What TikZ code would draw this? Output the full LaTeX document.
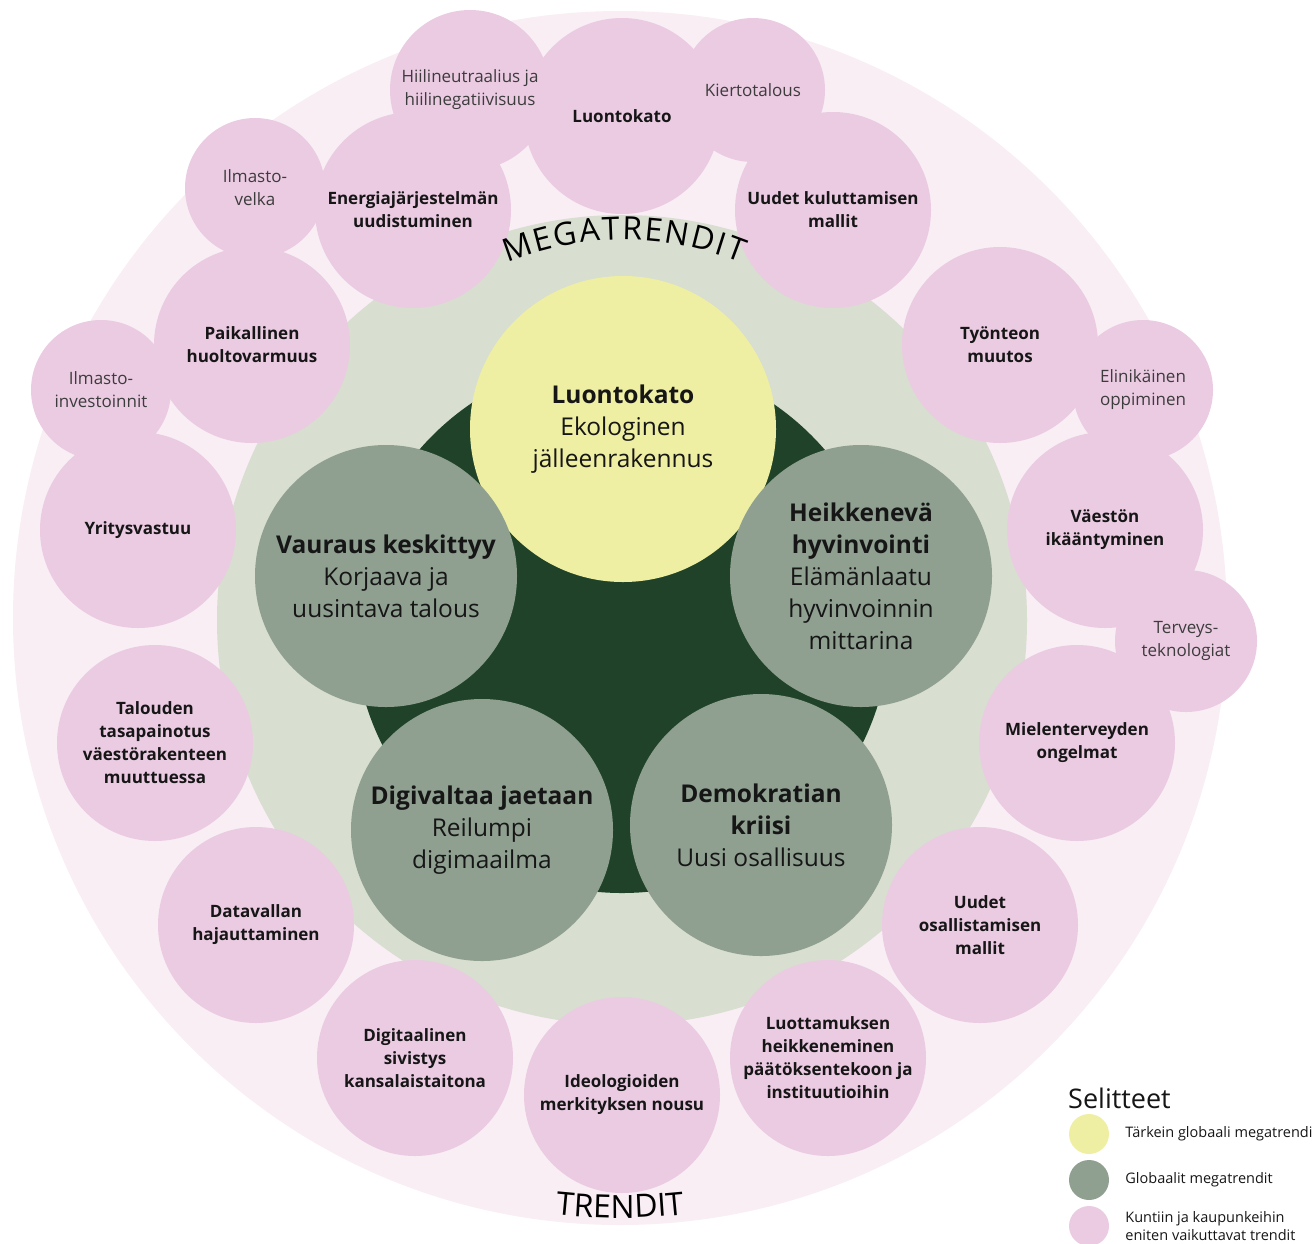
\documentclass[tikz,border=0pt]{standalone}
\usepackage{fontspec}
\setmainfont{Open Sans}
\usepackage{tikz}
\usetikzlibrary{positioning,decorations.text}

\definecolor{pale}{HTML}{F8EEF4}
\definecolor{rose}{HTML}{EBCBE2}
\definecolor{sage}{HTML}{D8DED0}
\definecolor{forest}{HTML}{1F4228}
\definecolor{lemon}{HTML}{EEEFA3}
\definecolor{moss}{HTML}{8FA091}
\definecolor{ink}{HTML}{161616}
\definecolor{softink}{HTML}{3C3C3C}

\newcommand\megafont{\fontsize{24.5}{32}\selectfont}
\newcommand\trendfont{\fontsize{17}{23}\selectfont}
\newcommand\ringfont{\fontsize{32}{36}\selectfont}

\begin{document}
\begin{tikzpicture}[x=1pt,y=1pt,
    mega/.style={circle,fill=moss,minimum size=262pt,inner sep=0pt,align=center,text=ink,font=\megafont},
    key/.style={mega,fill=lemon,minimum size=306pt},
    trend/.style={circle,fill=rose,minimum size=196pt,inner sep=0pt,align=center,text=ink,font=\trendfont\bfseries},
    side/.style={trend,minimum size=140pt,text=softink,font=\trendfont},
    dot/.style={circle,minimum size=40pt,inner sep=0pt},
    legend/.style={inner sep=0pt,align=left,text=ink,font=\fontsize{14.5}{18}\selectfont}]
    \useasboundingbox (0,0) rectangle (1316,-1243);

    % rings
    \node[circle,fill=pale,minimum size=1214pt] (trendring) at (620,-618) {};
    \node[circle,fill=sage,minimum size=810pt] (megaring) at (622,-620) {};
    \node[circle,fill=forest,minimum size=536pt] (core) at (622,-625) {};

    % megatrendit
    \node[key] (luontokato) at (623,-429) {\textbf{Luontokato}\\Ekologinen\\jälleenrakennus};
    \node[mega] (vauraus) at (386,-576) {\textbf{Vauraus keskittyy}\\Korjaava ja\\uusintava talous};
    \node[mega] (hyvinvointi) at (861,-576) {\textbf{Heikkenevä}\\\textbf{hyvinvointi}\\Elämänlaatu\\hyvinvoinnin\\mittarina};
    \node[mega] (digivalta) at (482,-830) {\textbf{Digivaltaa jaetaan}\\Reilumpi\\digimaailma};
    \node[mega] (demokratia) at (761,-825) {\textbf{Demokratian}\\\textbf{kriisi}\\Uusi osallisuus};

    % trendit
    \node[side,minimum size=140pt] (velka) at (255,-188) {Ilmasto-\\velka};
    \node[trend] (luonto) at (622,-116) {Luontokato};
    \node[trend] (energia) at (413,-210) {Energiajärjestelmän\\uudistuminen};
    \node[trend] (kulutus) at (833,-210) {Uudet kuluttamisen\\mallit};
    \node[trend] (huolto) at (252,-345) {Paikallinen\\huoltovarmuus};
    \node[trend] (tyo) at (1000,-345) {Työnteon\\muutos};
    \node[trend] (yritys) at (138,-530) {Yritysvastuu};
    \node[trend] (ikaantyminen) at (1105,-530) {Väestön\\ikääntyminen};
    \node[trend] (talous) at (155,-743) {Talouden\\tasapainotus\\väestörakenteen\\muuttuessa};
    \node[trend] (mieli) at (1077,-743) {Mielenterveyden\\ongelmat};
    \node[trend] (datavalta) at (256,-925) {Datavallan\\hajauttaminen};
    \node[trend] (osallistaminen) at (980,-925) {Uudet\\osallistamisen\\mallit};
    \node[trend] (sivistys) at (415,-1058) {Digitaalinen\\sivistys\\kansalaistaitona};
    \node[trend] (luottamus) at (828,-1058) {Luottamuksen\\heikkeneminen\\päätöksentekoon ja\\instituutioihin};
    \node[trend] (ideologiat) at (622,-1095) {Ideologioiden\\merkityksen nousu};
    \node[side,minimum size=160pt] (hiili) at (470,-90) {Hiilineutraalius ja\\hiilinegatiivisuus};
    \node[side,minimum size=144pt] (kierto) at (753,-90) {Kiertotalous};
    \node[side] (investoinnit) at (101,-390) {Ilmasto-\\investoinnit};
    \node[side] (oppiminen) at (1143,-390) {Elinikäinen\\oppiminen};
    \node[side,minimum size=142pt] (terveys) at (1186,-641) {Terveys-\\teknologiat};

    % ring titles
    \coordinate (megamid) at (624,-552);
    \path[decorate,decoration={text along path,text align=fit to path,
        text={|\ringfont|MEGATRENDIT}}]
        ([shift={(112:312)}]megamid) arc[start angle=112,end angle=68,radius=312];
    \path[decorate,decoration={text along path,text align=center,
        text={|\ringfont|TRENDIT}}]
        ([shift={(250:600)}]trendring.center) arc[start angle=250,end angle=290,radius=600];

    % selitteet
    \node[anchor=base west,inner sep=0pt,text=ink,font=\fontsize{27}{30}\selectfont] (selitteet) at (1068,-1108) {Selitteet};
    \node[dot,fill=lemon] (dot1) at (1089,-1134) {};
    \node[dot,fill=moss] (dot2) at (1089,-1180) {};
    \node[dot,fill=rose] (dot3) at (1089,-1226) {};
    \node[legend,right=16pt of dot1] (tarkein) {Tärkein globaali megatrendi};
    \node[legend,right=16pt of dot2] (globaalit) {Globaalit megatrendit};
    \node[legend,right=16pt of dot3] (kuntiin) {Kuntiin ja kaupunkeihin\\eniten vaikuttavat trendit};
\end{tikzpicture}
\end{document}
